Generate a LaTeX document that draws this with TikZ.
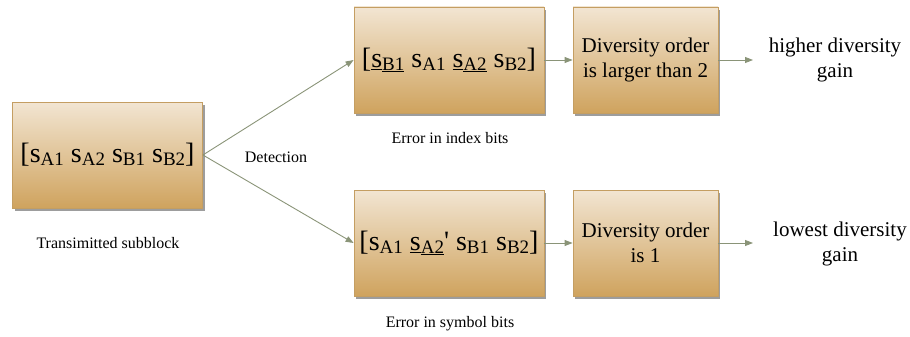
\documentclass[tikz,border=0pt]{standalone}
\usepackage{fontspec}
\setmainfont{Liberation Serif}
\usetikzlibrary{arrows.meta,shadows}
\definecolor{boxtop}{HTML}{F2E5D2}
\definecolor{boxbot}{HTML}{CFA35E}
\definecolor{boxline}{HTML}{C49E62}
\definecolor{conn}{HTML}{8A9478}
\newcommand\subv[1]{\raisebox{-2.7pt}{\fontsize{19}{19}\selectfont #1}}
\newcommand\sv[1]{s\subv{#1}}
\newcommand\usv[1]{\underline{s}\raisebox{-2.7pt}{\fontsize{19}{19}\selectfont\underline{#1}}}
\newcommand\bigtxt[1]{{\fontsize{28}{30}\selectfont #1}}
\begin{document}
\begin{tikzpicture}[x=1pt,y=-1pt,
  box/.style={draw=boxline,line width=0.8pt,top color=boxtop,bottom color=boxbot,
    inner sep=0pt,align=center,
    drop shadow={shadow xshift=2pt,shadow yshift=-3pt,opacity=.55,fill=black!70}},
  bigbox/.style={box,minimum width=190pt,minimum height=106pt},
  smallbox/.style={box,minimum width=145pt,minimum height=106pt,
    font=\fontsize{21}{25}\selectfont},
  lbl/.style={font=\fontsize{16}{19}\selectfont,inner sep=0pt},
  res/.style={font=\fontsize{21}{25}\selectfont,align=center,inner sep=0pt},
  conn/.style={draw=conn,line width=0.9pt,-{Triangle[length=8pt,width=6pt]}}
]
\useasboundingbox (0,0) rectangle (910,337);
\node[bigbox] (L) at (107.5,155) {\bigtxt{[\sv{A1} \sv{A2} \sv{B1} \sv{B2}]}};
\node[bigbox] (T) at (449,60) {\bigtxt{[\usv{B1} \sv{A1} \usv{A2} \sv{B2}]}};
\node[bigbox] (B) at (449,243) {\bigtxt{[\sv{A1} \usv{A2}\textquotesingle{} \sv{B1} \sv{B2}]}};
\node[smallbox] (TR) at (645.5,60) {Diversity order\\is larger than 2};
\node[smallbox] (BR) at (645.5,243) {Diversity order\\is 1};
\coordinate (TE) at (753,60);
\coordinate (BE) at (753,243);
\node[res] (th) at (835,60) {higher diversity\\gain};
\node[res] (bh) at (840,244) {lowest diversity\\gain};
\node[lbl] (det) at (276,157) {Detection};
\node[lbl] (ts) at (108,243) {Transimitted subblock};
\node[lbl] (ei) at (450,138) {Error in index bits};
\node[lbl] (es) at (450,324) {Error in symbol bits};
\draw[conn] (L.east) -- (T.west);
\draw[conn] (L.east) -- (B.west);
\draw[conn] (T.east) -- (TR.west);
\draw[conn] (B.east) -- (BR.west);
\draw[conn] (TR.east) -- (TE);
\draw[conn] (BR.east) -- (BE);
\end{tikzpicture}
\end{document}
